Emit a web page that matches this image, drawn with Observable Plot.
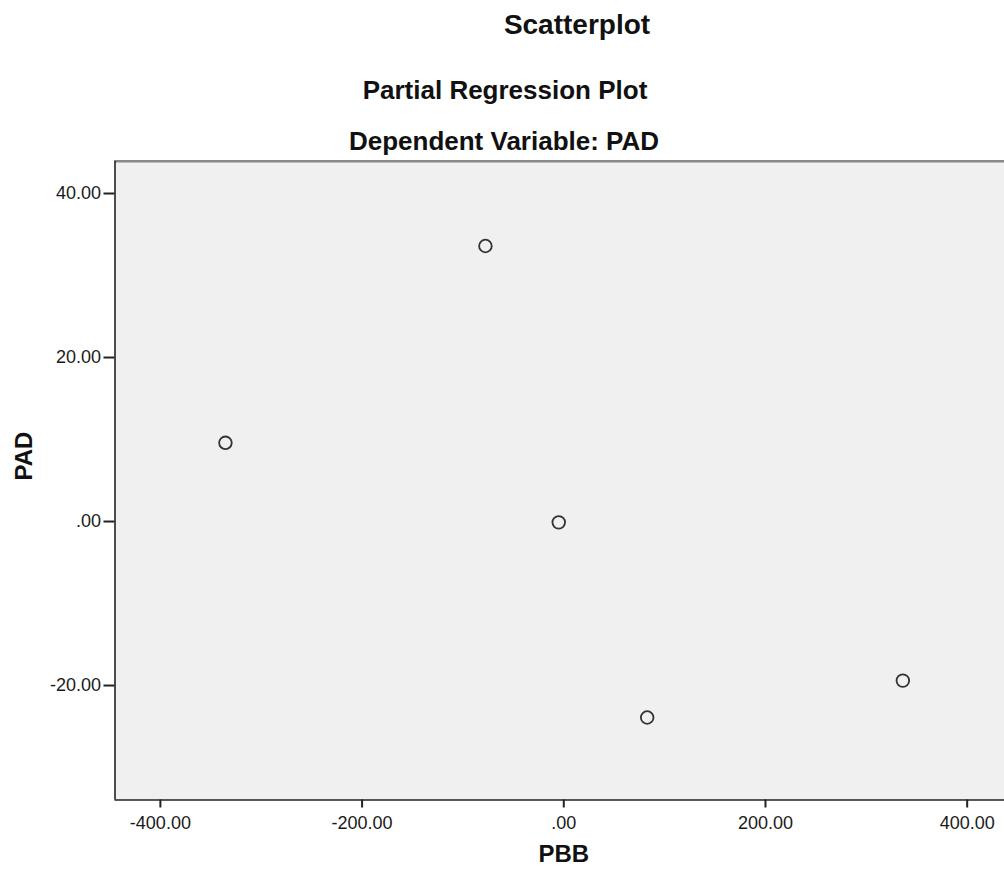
<!DOCTYPE html>
<html>
<head>
<meta charset="utf-8">
<script src="https://cdn.jsdelivr.net/npm/d3@7"></script>
<script src="https://cdn.jsdelivr.net/npm/@observablehq/plot@0.6"></script>
<style>
  html, body { margin: 0; padding: 0; background: #fff; }
  body { width: 1004px; height: 872px; overflow: hidden; font-family: "Liberation Sans", Arial, sans-serif; color: #222; }
  #titles { position: relative; height: 158px; }
  .t { position: absolute; width: 600px; text-align: center; white-space: nowrap; font-weight: bold; color: #111; }
  #chart svg { display: block; }
</style>
</head>
<body>
<div id="titles">
  <div class="t" style="left:277px; top:11px; font-size:28px; line-height:28px;">Scatterplot</div>
  <div class="t" style="left:205px; top:77px; font-size:26px; line-height:26px;">Partial Regression Plot</div>
  <div class="t" style="left:204px; top:128px; font-size:26px; line-height:26px;">Dependent Variable: PAD</div>
</div>
<div id="chart"></div>
<script>
const pbb = [-335.5, -77.7, -5.0, 82.7, 336.2];
const pad = [9.6, 33.6, -0.1, -23.9, -19.4];
const xTicks = [-400, -200, 0, 200, 400];
const yTicks = [-20, 0, 20, 40];
const xLabel = "PBB";
const yLabel = "PAD";

const xDomain = [-445, 437];
const yDomain = [-33.96, 43.94];

const points = pbb.map((x, i) => ({x, y: pad[i]}));
const fmt = v => d3.format(".2f")(v).replace("\u2212", "-").replace(/^(-?)0\./, "$1.");

const chart = Plot.plot({
  width: 1004,
  height: 714,
  marginTop: 2.7,
  marginBottom: 72.5,
  marginLeft: 114.5,
  marginRight: 0,
  style: {background: "#fff", fontFamily: "'Liberation Sans', Arial, sans-serif", fontSize: "18px", color: "#222"},
  x: {domain: xDomain},
  y: {domain: yDomain},
  marks: [
    Plot.frame({fill: "#f0f0f0", stroke: null}),
    Plot.ruleY([yDomain[1]], {stroke: "#888", strokeWidth: 2.5}),
    Plot.ruleX([xDomain[0]], {stroke: "#222", strokeWidth: 1.6}),
    Plot.ruleY([yDomain[0]], {stroke: "#222", strokeWidth: 1.6}),
    Plot.axisY(yTicks, {tickSize: 11, tickPadding: 3, tickFormat: fmt, stroke: "#222", fill: "#1a1a1a", strokeWidth: 2, fontSize: 18, label: null}),
    Plot.axisX(xTicks, {tickSize: 8, tickPadding: 8, tickFormat: fmt, stroke: "#222", fill: "#1a1a1a", strokeWidth: 2, fontSize: 18, label: null}),
    Plot.dot(points, {x: "x", y: "y", r: 6.3, stroke: "#333", strokeWidth: 1.8, fill: "none"}),
    Plot.text([yLabel], {frameAnchor: "left", dx: -91, rotate: -90, text: d => d, fontWeight: "bold", fontSize: 24, fill: "#111"}),
    Plot.text([xLabel], {frameAnchor: "bottom", dx: 4, dy: 62, text: d => d, fontWeight: "bold", fontSize: 24, fill: "#111"})
  ]
});
document.getElementById("chart").appendChild(chart);
</script>
</body>
</html>
